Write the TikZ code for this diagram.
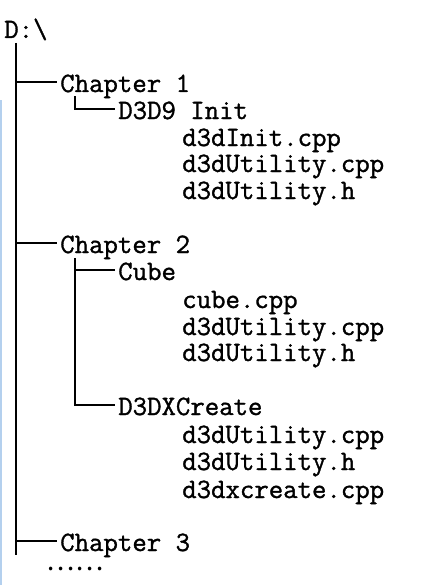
\documentclass[tikz,border=0pt]{standalone}
\usepackage{fontspec}
\usepackage{tikz}
\usetikzlibrary{positioning}
\newfontfamily\treefont[FakeBold=1.2]{Latin Modern Mono}
\newfontfamily\cjk{Noto Sans CJK SC}
\definecolor{ink}{RGB}{0,0,0}
\definecolor{edgeblue}{RGB}{180,208,238}
\tikzset{
    line cap=butt,
    line join=miter,
    treetext/.style={
        anchor=base west,
        inner xsep=2.25pt,
        inner ysep=0pt,
        text height=15pt,
        text depth=0pt,
        text=ink,
        font=\treefont\fontsize{21}{27}\selectfont
    },
    dirnode/.style={treetext},
    filenode/.style={treetext},
    branch/.style={
        draw=ink,
        line width=2pt
    }
}

\begin{document}
\begin{tikzpicture}[x=0.75pt, y=-0.75pt]
\useasboundingbox[fill=white] (0,0) rectangle (425,585);

% left window edge
\draw[edgeblue, line width=2.4pt] (0,100) -- (0,585);

% root
\node[dirnode] (root) at (1,38) {D:\textbackslash};

% chapters
\node[dirnode] (ch1) at (57,92) {Chapter 1};
\node[dirnode] (ch2) at (57,253) {Chapter 2};
\node[dirnode] (ch3) at (57,551) {Chapter 3};

% projects
\node[dirnode] (init) at (115,119) {D3D9 Init};
\node[dirnode] (cube) at (115,280) {Cube};
\node[dirnode] (dxcreate) at (115,415) {D3DXCreate};

% files
\node[filenode] (f1) at (179,146) {d3dInit.cpp};
\node[filenode] (f2) at (179,172) {d3dUtility.cpp};
\node[filenode] (f3) at (179,199) {d3dUtility.h};

\node[filenode] (f4) at (179,308) {cube.cpp};
\node[filenode] (f5) at (179,335) {d3dUtility.cpp};
\node[filenode] (f6) at (179,361) {d3dUtility.h};

\node[filenode] (f7) at (179,443) {d3dUtility.cpp};
\node[filenode] (f8) at (179,470) {d3dUtility.h};
\node[filenode] (f9) at (179,498) {d3dxcreate.cpp};

\node[anchor=center, inner sep=0pt, font=\cjk\fontsize{20}{20}\selectfont] (more) at (75,569) {……};

% trunk
\coordinate (trunktop) at (16,43);
\coordinate (trunkend) at (16,555);
\draw[branch] (trunktop) -- (trunkend);
\foreach \n in {ch1,ch2,ch3}
    \draw[branch] (\n.west -| trunktop) -- (\n.west);

% sub branches
\coordinate (sub1) at (75,96);
\coordinate (sub2) at (75,258);
\draw[branch] (sub1) |- (init.west);
\draw[branch] (sub2) |- (dxcreate.west);
\draw[branch] (cube.west -| sub2) -- (cube.west);

\end{tikzpicture}
\end{document}
